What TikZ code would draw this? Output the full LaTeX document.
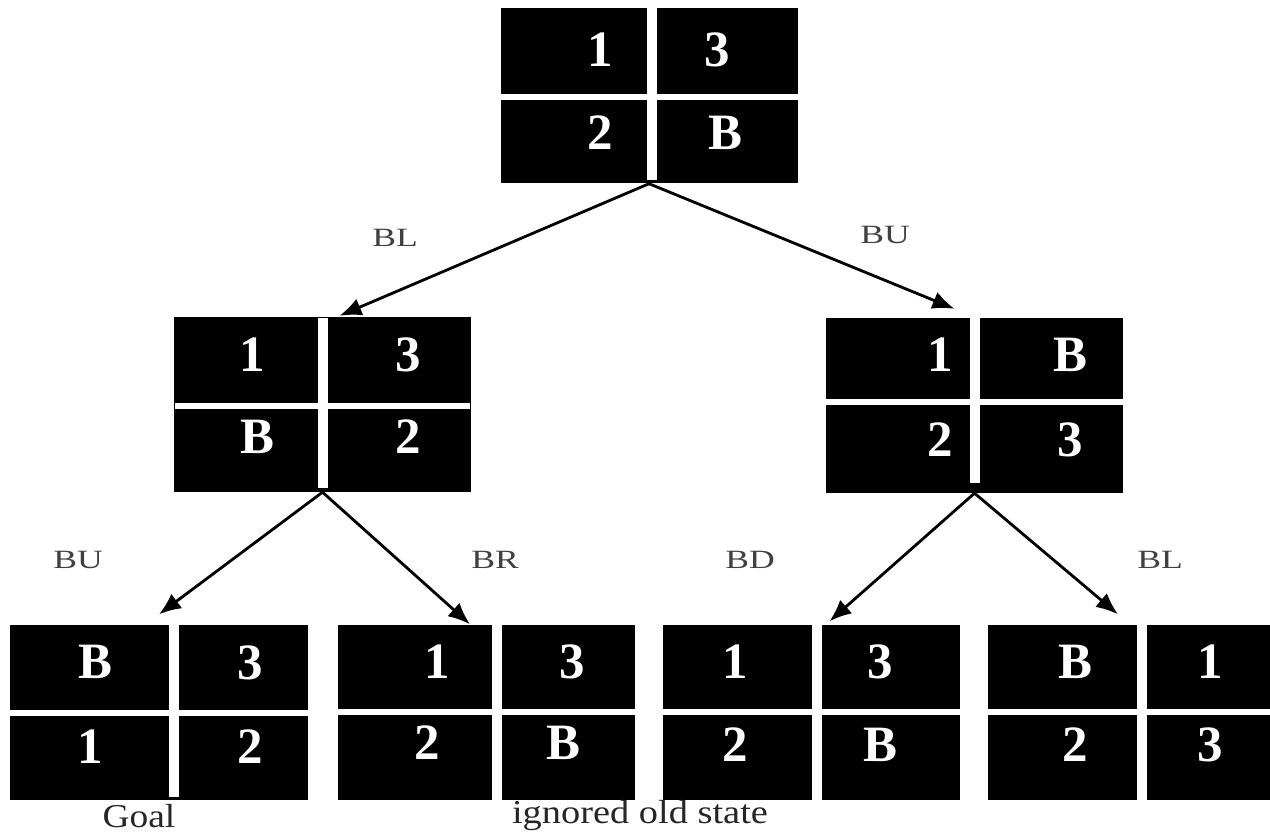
\documentclass[tikz,border=0pt]{standalone}
\usepackage{fontspec}
\setmainfont{Liberation Serif}
\usetikzlibrary{arrows.meta}
\begin{document}
\begin{tikzpicture}[
        board/.style = {fill=black, minimum width=2.97cm, minimum height=1.75cm, inner sep=0pt},
        tile/.style = {text=white, font=\fontsize{14.5}{16}\selectfont\bfseries},
        vgap/.style = {white, line width=2.8pt},
        hgap/.style = {white, line width=1.7pt},
        move/.style = {font=\fontsize{7.5}{8}\selectfont, text=black!75},
        fleche/.style = {-{Latex[length=2.2mm,width=1.8mm]}, line width=0.8pt},
        note/.style = {font=\fontsize{9.5}{10}\selectfont, text=black!85, inner sep=1pt}
    ]
        \useasboundingbox (0,0) rectangle (12.7,-8.34);

        % Etat initial
        \node[board] (s0) at (6.49,-0.955) {};
        \draw[vgap] (6.52,-0.08) -- (6.52,-1.80);
        \draw[hgap] (5.00,-0.97) -- (7.98,-0.97);
        \node[tile] (s0a) at (6.00,-0.50) {1};
        \node[tile] (s0b) at (7.17,-0.50) {3};
        \node[tile] (s0c) at (6.00,-1.33) {2};
        \node[tile] (s0d) at (7.25,-1.33) {B};

        % Deuxieme niveau
        \node[board] (s1) at (3.225,-4.04) {};
        \draw[vgap] (3.23,-3.18) -- (3.23,-4.88);
        \draw[hgap] (1.75,-4.06) -- (4.70,-4.06);
        \node[tile] (s1a) at (2.52,-3.55) {1};
        \node[tile] (s1b) at (4.08,-3.55) {3};
        \node[tile] (s1c) at (2.57,-4.37) {B};
        \node[tile] (s1d) at (4.08,-4.37) {2};

        \node[board] (s2) at (9.745,-4.05) {};
        \draw[vgap] (9.75,-3.18) -- (9.75,-4.83);
        \draw[hgap] (8.26,-4.02) -- (11.23,-4.02);
        \node[tile] (s2a) at (9.40,-3.55) {1};
        \node[tile] (s2b) at (10.70,-3.55) {B};
        \node[tile] (s2c) at (9.40,-4.40) {2};
        \node[tile] (s2d) at (10.70,-4.40) {3};

        % Troisieme niveau
        \node[board] (s3) at (1.59,-7.125) {};
        \draw[vgap] (1.74,-6.25) -- (1.74,-7.97);
        \draw[hgap] (0.10,-7.13) -- (3.08,-7.13);
        \node[tile] (s3a) at (0.95,-6.62) {B};
        \node[tile] (s3b) at (2.50,-6.63) {3};
        \node[tile] (s3c) at (0.90,-7.47) {1};
        \node[tile] (s3d) at (2.50,-7.47) {2};

        \node[board] (s4) at (4.86,-7.125) {};
        \draw[vgap] (4.97,-6.25) -- (4.97,-8.00);
        \draw[hgap] (3.37,-7.12) -- (6.35,-7.12);
        \node[tile] (s4a) at (4.37,-6.62) {1};
        \node[tile] (s4b) at (5.72,-6.62) {3};
        \node[tile] (s4c) at (4.27,-7.43) {2};
        \node[tile] (s4d) at (5.63,-7.43) {B};

        \node[board] (s5) at (8.115,-7.125) {};
        \draw[vgap] (8.17,-6.25) -- (8.17,-8.00);
        \draw[hgap] (6.63,-7.12) -- (9.60,-7.12);
        \node[tile] (s5a) at (7.35,-6.62) {1};
        \node[tile] (s5b) at (8.80,-6.62) {3};
        \node[tile] (s5c) at (7.35,-7.45) {2};
        \node[tile] (s5d) at (8.80,-7.45) {B};

        \node[board, minimum width=2.82cm] (s6) at (11.29,-7.125) {};
        \draw[vgap] (11.42,-6.25) -- (11.42,-8.00);
        \draw[hgap] (9.88,-7.12) -- (12.70,-7.12);
        \node[tile] (s6a) at (10.75,-6.62) {B};
        \node[tile] (s6b) at (12.10,-6.62) {1};
        \node[tile] (s6c) at (10.75,-7.45) {2};
        \node[tile] (s6d) at (12.10,-7.45) {3};

        % Les coups
        \draw[fleche] (s0.south) -- ([xshift=0.17cm]s1.north);
        \draw[fleche] (s0.south) -- ([xshift=-0.2cm, yshift=0.08cm]s2.north);
        \draw[fleche] (s1.south) -- ([yshift=0.1cm]s3.north);
        \draw[fleche] (s1.south) -- ([xshift=-0.16cm]s4.north);
        \draw[fleche] (s2.south) -- ([xshift=0.18cm, yshift=0.03cm]s5.north);
        \draw[fleche] (s2.south) -- ([xshift=-0.11cm, yshift=0.1cm]s6.north);

        \node[move] (m1) at (3.95,-2.38) {\scalebox{1.35}[1]{BL}};
        \node[move] (m2) at (8.85,-2.35) {\scalebox{1.35}[1]{BU}};
        \node[move] (m3) at (0.78,-5.60) {\scalebox{1.35}[1]{BU}};
        \node[move] (m4) at (4.95,-5.60) {\scalebox{1.35}[1]{BR}};
        \node[move] (m5) at (7.50,-5.60) {\scalebox{1.35}[1]{BD}};
        \node[move] (m6) at (11.60,-5.60) {\scalebox{1.35}[1]{BL}};

        \node[note] (goal) at (1.39,-8.16) {\scalebox{1.12}[1]{Goal}};
        \node[note] (old) at (6.40,-8.16) {\scalebox{1.15}[1]{ignored old state}};
    \end{tikzpicture}
\end{document}
